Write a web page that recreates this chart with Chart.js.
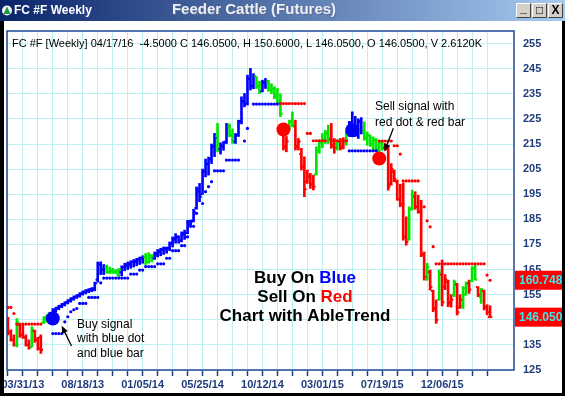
<!DOCTYPE html>
<html>
<head>
<meta charset="utf-8">
<script src="https://cdn.jsdelivr.net/npm/chart.js@4.4.1/dist/chart.umd.min.js"></script>
<style>
html,body{margin:0;padding:0;background:#fff}
#wrap{width:565px;height:396px;position:relative;overflow:hidden}
</style>
</head>
<body>
<div id="wrap"><canvas id="c" width="565" height="396"></canvas></div>
<script>
// FC #F weekly - AbleTrend style bars
const FONT = 'Arial, "Liberation Sans", sans-serif';
const AXIS_BLUE = '#1f3c7c';
const GRID = '#bdf1f1';
const COL = { b:'#0000ff', g:'#00e600', r:'#ff0000' };

// one letter per weekly bar: b = blue, g = green, r = red
const barColor = ('rrrgrrrrgr' + 'rrggbbbbbb' + 'bbbbbbbbbb' + 'bbbgggggbb' + 'bbbbbbgggb' +
  'bbbbbbbbbb' + 'bbbbbbbbbb' + 'gbbbggbbbb' + 'bbbggbbggg' + 'ggrrggrrrr' +
  'rrrgggggrr' + 'grrgbbbbbg' + 'ggggggrrrr' + 'rrrrggrrrr' + 'grrrgrrrrg' +
  'rrggrggrgr' + 'rr').split('');

const highs = [
  146,141,139,145.5,143,142.9,139,137,142.2,140.9,
  138,139,146.2,147,148,149.5,150,150.8,151.5,152.2,
  153,153.8,154.5,155,155.8,156.5,157,157.4,157.8,160,
  168,168.1,167,166.8,166,165.5,165,165.4,166.5,167.5,
  168,168.5,169,169.5,170,170.5,171.4,171.7,171,172,
  173,173.5,174,174,176,178,179.3,178.5,180,180.7,
  184.6,184.7,189,197.9,199.3,205,209,209.8,215,219.2,
  223.2,215.5,216,223.2,223,221,219.2,224.5,233.8,235.1,
  242.4,245.1,243,241.8,240,240.4,241.1,240.4,239,237.8,
  237.1,235,221.9,218,224.5,227.8,224.5,217.2,213.3,209.9,
  204.6,203.3,202.6,213.9,216.6,219.2,220.5,222.5,223.2,217.2,
  216.6,217.2,217.5,220,224,227.8,226,225,225.5,223.8,
  219.8,218.5,217.8,217.2,216.5,216,215.2,214.5,207.2,204.6,
  200.6,199,199.5,186,190,196.6,196,194.6,192.6,172,
  167.5,164.8,156.8,152.9,164.8,168.8,163,160.8,155,160.8,
  159.5,155,158.2,160.1,160.8,166.1,166.8,158.2,157.5,156.8,
  151,150.6
];
const lows = [
  139,136.5,134.5,134.2,138,137.6,134.5,133.3,134.2,136,
  132.9,131.6,143.5,144,145,145.5,148,149,149.8,150.5,
  151.3,152,152.8,153.5,154,154.8,155.3,155.8,156.2,156.5,
  160,163,163,163.5,163.4,163.5,163.4,162.1,162.5,164.5,
  165,165.5,166,166.5,167,167.5,167,167.5,168,169,
  170,170.5,171,171.5,172.5,174,175.5,175.5,176,177,
  179.3,182.8,184,189,192,195,201.9,202.6,207.2,210,
  211.9,211,212.5,215.2,217.9,215.2,215.2,218,223,229.8,
  230.5,236.5,237,237.1,235.1,235.8,237.1,236,235,233,
  231.2,225.9,212.6,211.9,220.5,221.9,212.6,212.6,204.6,194,
  199.3,197.3,196.7,202.6,211.3,213.5,215.2,215.2,213.3,211.3,
  212.6,212.6,213,214.5,218,220,218,217.2,219,216.5,
  214.5,214,212.5,211.9,212,212.5,212.5,196.6,198.6,200,
  192.6,190,176.7,174.7,176.7,188.7,189,187.4,170.1,160.8,
  160.8,156.8,148.2,143.6,152.8,150.5,157,150.2,150,154.2,
  146.9,149.5,149.5,154.8,155.5,160.1,160.8,154.2,151.5,148.9,
  147,146.05
];
const opens = [
  145,140,137,135,143,139,138,135,134,140.5,
  137,138,144,145,146,147,148.5,149.5,150.2,151,
  151.8,152.5,153.2,154,154.5,155.3,156,156.3,156.8,157,
  161,167,165,166,164,164.5,164,163,164,166,
  166.5,167,168,168,169,169.5,170,168,170,169.5,
  171,172,173,173,173.5,175.5,177,178,176.5,179,
  179.5,183,184.5,189.5,196,195,204,207,209,214,
  218,213,214,216,222,218.5,216,218.5,224,232,
  231,241,238,242,238,236,239.5,240,236.5,237,
  234,232,221,214,220.5,224,222,214,211,206,
  200,202,199,203,212.5,215.5,217,219,217,214.5,
  213,216,214,216,219.5,223.5,222,219,224,220,
  217.5,218.5,215,216.5,213,215.5,213.5,213,199,204,
  200,193,191,178,177,189,194,190,188,171,
  161,164,156.5,149.5,153,163,158,160,152,155,
  159,150,150.5,155,159.5,160.5,165.5,158,154,156.5,
  150,146.05
];
const closes = [
  140,137,135,144,139,138,135,134,141,137,
  133.5,133,146,146.5,147.5,149,149.8,150.5,151.2,152,
  152.8,153.5,154.2,154.8,155.5,156.2,156.8,157.2,157.5,159.5,
  167,165,166,164,164.5,163.8,164.5,165,166,167,
  167.5,168,168.5,169,169.5,170,168,170.5,169.5,171.5,
  172.5,173,173.5,173.5,175.5,177.5,178,176.5,179.5,178,
  184,184,188,197,194,204,207,209,214,217.5,
  213,214.5,215.5,222,218.5,216,218.5,224,232,231,
  241,238,242,238,236,239.5,240,236.5,237,234,
  232,227,214,216,224,222.5,214,216,206,197,
  202,199,198,212.5,215.5,217,219.5,216.5,214.5,213.5,
  216,213.5,216,219.5,223.5,222,219,224,220,217.5,
  218.5,215,216.5,213,215.5,213.5,213,198,205,201,
  193,191,178,176,189,195,190,188,171,162,
  166,158,149.5,145,163.5,152,161,151.5,153,160,
  148,153,157.5,159.5,157,165.5,161,155,157,150,
  148,146.05
];

// AbleTrend stops: blue support dots under the bars, red resistance dots above
const supportDots = [
  null,null,null,null,null,null,null,null,null,null,
  null,null,null,null,null,139.5,139.5,139.5,139.5,144.2,
  146.2,148.2,149,149.5,151.5,151.5,151.5,153.9,153.9,153.9,
  153.9,159.7,161.6,161.6,161.6,161.6,161.6,161.6,161.6,161.6,
  161.6,163.2,163.2,163.2,164.8,164.8,166.2,166.2,166.2,166.2,
  167.3,167.3,167.3,169.5,169.5,172.5,172.5,172.5,174.5,174.5,
  178,182.2,182.2,187.4,null,191.3,196,198,200,204.3,
  204.3,204.3,204.3,208.6,208.6,208.6,208.6,208.6,null,216.2,
  221.2,null,230.9,230.9,230.9,230.9,230.9,230.9,230.9,230.9,
  230.9,null,null,null,null,null,null,null,null,null,
  null,null,null,null,null,null,null,null,null,null,
  null,null,null,null,212.3,212.3,212.3,212.3,212.3,212.3,
  212.3,212.3,212.3,212.3,null,null,null,null,null,null,
  null,null,null,null,null,null,null,null,null,null,
  null,null,null,null,null,null,null,null,null,null,
  null,null,null,null,null,null,null,null,null,null,
  null,null
];
const resistDots = [
  149.9,149.9,147.5,143.3,143.3,143.3,143.3,143.3,143.3,143.3,
  143.3,143.3,null,null,null,null,null,null,null,null,
  null,null,null,null,null,null,null,null,null,null,
  null,null,null,null,null,null,null,null,null,null,
  null,null,null,null,null,null,null,null,null,null,
  null,null,null,null,null,null,null,null,null,null,
  null,null,null,null,null,null,null,null,null,null,
  null,null,null,null,null,null,null,null,null,null,
  null,null,null,null,null,null,null,null,null,null,
  null,231.1,231.1,231.1,231.1,231.1,231.1,231.1,231.1,231.1,
  219.2,219.2,216.3,216.3,216.3,216.3,216.3,null,216.3,216.3,
  216.3,216.3,216.3,216.3,null,null,null,null,null,null,
  null,null,null,null,216.2,216.2,216.2,216.2,216.2,214.3,
  214.3,211,200.3,200.3,200.3,200.3,200.3,200.3,null,190,
  184.4,182,174.1,167.3,167.3,167.3,167.3,167.3,167.3,167.3,
  167.3,167.3,167.3,167.3,167.3,167.3,167.3,167.3,167.3,167.3,
  162.8,160.748
];

// big signal dots
const buyIdx = [15, 115];
const buyVal = [145.5, 220.5];
const sellIdx = [92, 124];
const sellVal = [220.8, 209.2];

// axes
const yTicks = [125,135,145,155,165,175,185,195,205,215,225,235,245,255];
const xTickIdx = [0,5,10,15,20,25,30,35,40,45,50,55,60,65,70,75,80,85,90,95,100,105,110,115,120,125,130,135,140,145,150,155,160];
const xLabelIdx = [5,25,45,65,85,105,125,145];
const xLabelText = ['03/31/13','08/18/13','01/05/14','05/25/14','10/12/14','03/01/15','07/19/15','12/06/15'];

const infoLine = 'FC #F [Weekly] 04/17/16  -4.5000 C 146.0500, H 150.6000, L 146.0500, O 146.0500, V 2.6120K';
const priceBoxes = [160.748, 146.05];
const priceText = ['160.748', '146.050'];

const idx = highs.map((_, i) => i);
const colors = barColor.map(c => COL[c]);

function dots(arr) {
  return idx.filter(i => arr[i] != null).map(i => ({ x: i, y: arr[i] }));
}

const chrome = {
  id: 'chrome',
  beforeDraw(chart) {
    const c = chart.ctx;
    c.save();
    c.fillStyle = '#fff';
    c.fillRect(0, 0, 565, 396);
    // title bar
    const g = c.createLinearGradient(0, 0, 565, 0);
    g.addColorStop(0, '#0a246a');
    g.addColorStop(1, '#a6caf0');
    c.fillStyle = g;
    c.fillRect(0, 0, 565, 21);
    // little icon
    c.fillStyle = '#f0f0f0';
    c.beginPath(); c.arc(7, 10.5, 5, 0, Math.PI * 2); c.fill();
    c.fillStyle = '#1a9a3a';
    c.beginPath(); c.moveTo(7, 6.5); c.lineTo(10.5, 14); c.lineTo(3.5, 14); c.closePath(); c.fill();
    c.fillStyle = '#fff';
    c.textBaseline = 'middle';
    c.font = 'bold 12px ' + FONT;
    c.fillText('FC #F Weekly', 14, 11);
    c.font = 'bold 15px ' + FONT;
    c.textAlign = 'center';
    c.fillStyle = '#5a6a90';
    c.fillText('Feeder Cattle (Futures)', 255, 11);
    c.fillStyle = '#eef0f6';
    c.fillText('Feeder Cattle (Futures)', 254, 10);
    // window buttons
    const bx = [516, 532, 548];
    const glyph = ['_', '□', 'X'];
    bx.forEach((x, k) => {
      c.fillStyle = '#d4d0c8';
      c.fillRect(x, 3, 15, 15);
      c.strokeStyle = '#fff'; c.lineWidth = 1;
      c.beginPath(); c.moveTo(x + 0.5, 17.5); c.lineTo(x + 0.5, 3.5); c.lineTo(x + 14.5, 3.5); c.stroke();
      c.strokeStyle = '#404040';
      c.beginPath(); c.moveTo(x + 0.5, 17.5); c.lineTo(x + 14.5, 17.5); c.lineTo(x + 14.5, 3.5); c.stroke();
      c.fillStyle = '#000';
      c.font = 'bold 12px ' + FONT;
      c.fillText(glyph[k], x + 7.5, k === 0 ? 9 : 11);
    });
    c.restore();
  },
  afterDraw(chart) {
    const c = chart.ctx;
    const a = chart.chartArea;
    const ys = chart.scales.y;
    c.save();
    // plot frame
    c.strokeStyle = '#1f4a96';
    c.lineWidth = 1.5;
    c.strokeRect(a.left, a.top, a.right - a.left, a.bottom - a.top);
    // info line
    c.fillStyle = '#000';
    c.textBaseline = 'middle';
    c.textAlign = 'left';
    c.font = '11px ' + FONT;
    c.fillText(infoLine, 12, 44);
    // buy note
    c.font = '12px ' + FONT;
    c.fillText('Buy signal', 77, 324.5);
    c.fillText('with blue dot', 77, 339);
    c.fillText('and blue bar', 77, 353.5);
    // sell note
    c.fillText('Sell signal with', 375, 107);
    c.fillText('red dot & red bar', 375, 122.5);
    arrow(c, 71.5, 346, 61.7, 325.8);
    arrow(c, 393.3, 128.3, 384.5, 151.5);
    // centre slogan
    c.font = 'bold 17px ' + FONT;
    slogan(c, [['Buy On ', '#000'], ['Blue', '#0000ff']], 305, 278);
    slogan(c, [['Sell On ', '#000'], ['Red', '#ff0000']], 305, 297);
    slogan(c, [['Chart with AbleTrend', '#000']], 305, 316);
    // last price boxes
    c.font = 'bold 12px ' + FONT;
    priceBoxes.forEach((v, k) => {
      const y = ys.getPixelForValue(v);
      c.fillStyle = '#ff0000';
      c.fillRect(515, y - 9.5, 50, 19);
      c.fillStyle = '#3ee6ea';
      c.textAlign = 'left';
      c.fillText(priceText[k], 519, y + 0.5);
    });
    // window border
    c.fillStyle = '#000';
    c.fillRect(0, 21, 4, 375);
    c.fillRect(562, 21, 3, 375);
    c.fillRect(0, 393, 565, 3);
    c.restore();
  }
};

function slogan(c, parts, cx, y) {
  const w = parts.reduce((s, p) => s + c.measureText(p[0]).width, 0);
  let x = cx - w / 2;
  c.textAlign = 'left';
  parts.forEach(p => { c.fillStyle = p[1]; c.fillText(p[0], x, y); x += c.measureText(p[0]).width; });
}

function arrow(c, x1, y1, x2, y2) {
  const ang = Math.atan2(y2 - y1, x2 - x1);
  c.strokeStyle = '#000';
  c.fillStyle = '#000';
  c.lineWidth = 1.3;
  c.beginPath(); c.moveTo(x1, y1); c.lineTo(x2 - Math.cos(ang) * 4, y2 - Math.sin(ang) * 4); c.stroke();
  c.beginPath();
  c.moveTo(x2, y2);
  c.lineTo(x2 - Math.cos(ang - 0.4) * 8, y2 - Math.sin(ang - 0.4) * 8);
  c.lineTo(x2 - Math.cos(ang + 0.4) * 8, y2 - Math.sin(ang + 0.4) * 8);
  c.closePath(); c.fill();
}

new Chart(document.getElementById('c'), {
  type: 'bar',
  data: {
    datasets: [
      { type: 'bar', order: 6, data: idx.map(i => ({ x: i, y: [lows[i], highs[i]] })),
        backgroundColor: colors, borderWidth: 0, barThickness: 2 },
      { type: 'scatter', order: 5, data: idx.map(i => ({ x: i - 0.4, y: opens[i] })),
        pointStyle: 'line', pointRadius: 1, pointBorderWidth: 2, pointBorderColor: colors, pointBackgroundColor: colors },
      { type: 'scatter', order: 5, data: idx.map(i => ({ x: i + 0.4, y: closes[i] })),
        pointStyle: 'line', pointRadius: 1, pointBorderWidth: 2, pointBorderColor: colors, pointBackgroundColor: colors },
      { type: 'scatter', order: 3, data: dots(supportDots),
        pointRadius: 1.6, pointBorderWidth: 0, pointBackgroundColor: '#0000ff' },
      { type: 'scatter', order: 3, data: dots(resistDots),
        pointRadius: 1.6, pointBorderWidth: 0, pointBackgroundColor: '#ff0000' },
      { type: 'scatter', order: 1, data: buyIdx.map((x, k) => ({ x, y: buyVal[k] })),
        pointRadius: 7, pointBorderWidth: 0, pointBackgroundColor: '#0000ff' },
      { type: 'scatter', order: 1, data: sellIdx.map((x, k) => ({ x, y: sellVal[k] })),
        pointRadius: 7, pointBorderWidth: 0, pointBackgroundColor: '#ff0000' }
    ]
  },
  options: {
    responsive: false,
    animation: false,
    events: [],
    devicePixelRatio: 1,
    layout: { padding: { left: 7, top: 31, right: 0, bottom: 0 } },
    plugins: { legend: { display: false }, tooltip: { enabled: false } },
    scales: {
      x: {
        type: 'linear', min: -0.3, max: 169, offset: false,
        afterFit: s => { s.height = 26; },
        afterBuildTicks: s => { s.ticks = xTickIdx.map(v => ({ value: v })); },
        grid: { color: GRID, lineWidth: 1, drawTicks: true, tickLength: 6, tickColor: AXIS_BLUE, tickWidth: 1.5, offset: false },
        border: { display: false },
        ticks: {
          autoSkip: false, maxRotation: 0, minRotation: 0, padding: 2, color: AXIS_BLUE,
          font: { family: FONT, size: 11, weight: 'bold' },
          callback: v => { const k = xLabelIdx.indexOf(v); return k < 0 ? '' : xLabelText[k]; }
        }
      },
      y: {
        position: 'right', min: 125, max: 260,
        afterFit: s => { s.width = 51; },
        afterBuildTicks: s => { s.ticks = yTicks.map(v => ({ value: v })); },
        grid: { color: GRID, lineWidth: 1, drawTicks: false },
        border: { display: false },
        ticks: { padding: 9, color: AXIS_BLUE, font: { family: FONT, size: 11, weight: 'bold' } }
      }
    }
  },
  plugins: [chrome]
});
</script>
</body>
</html>
